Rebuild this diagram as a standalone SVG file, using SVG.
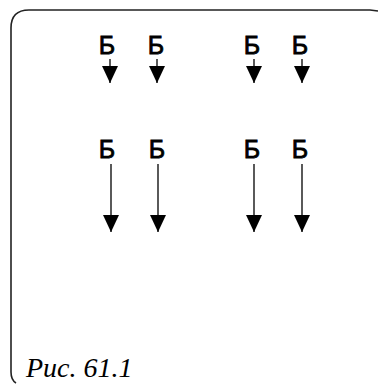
<svg xmlns="http://www.w3.org/2000/svg" width="378" height="384" viewBox="0 0 378 384">
<style>
.frame{fill:none;stroke:#222;stroke-width:1.6}
.lbl{font-family:"Liberation Sans",Arial,sans-serif;font-size:25px;fill:#000;stroke:#000;stroke-width:0.8;text-anchor:middle}
.stem{stroke:#000;stroke-width:1.3;fill:none}
.cap{font-family:"Liberation Serif","Times New Roman",serif;font-style:italic;font-size:28px;fill:#000}
</style>
<defs>
<marker id="ah" viewBox="0 0 17 16" refX="17" refY="8" markerWidth="17" markerHeight="16" markerUnits="userSpaceOnUse" orient="auto">
<path d="M0 0 L17 8 L0 16 Z" fill="#000"/>
</marker>
</defs>
<rect width="378" height="384" fill="#fff"/>
<path class="frame" d="M16 383 Q11 380 11 372 L11 28 Q11 10 29 10 L370 10 L378 11"/>
<g id="top1"><text class="lbl" x="107" y="54">Б</text></g>
<g id="top2"><text class="lbl" x="156" y="54">Б</text></g>
<g id="top3"><text class="lbl" x="252" y="54">Б</text></g>
<g id="top4"><text class="lbl" x="300" y="54">Б</text></g>
<g id="bot1"><text class="lbl" x="107" y="158">Б</text></g>
<g id="bot2"><text class="lbl" x="157" y="158">Б</text></g>
<g id="bot3"><text class="lbl" x="252" y="158">Б</text></g>
<g id="bot4"><text class="lbl" x="300" y="158">Б</text></g>
<g id="connectors">
<line class="stem" x1="110" y1="59" x2="110" y2="83" marker-end="url(#ah)"/>
<line class="stem" x1="157" y1="59" x2="157" y2="83" marker-end="url(#ah)"/>
<line class="stem" x1="254" y1="59" x2="254" y2="83" marker-end="url(#ah)"/>
<line class="stem" x1="302" y1="59" x2="302" y2="83" marker-end="url(#ah)"/>
<line class="stem" x1="111" y1="164" x2="111" y2="232" marker-end="url(#ah)"/>
<line class="stem" x1="158" y1="164" x2="158" y2="232" marker-end="url(#ah)"/>
<line class="stem" x1="254" y1="164" x2="254" y2="232" marker-end="url(#ah)"/>
<line class="stem" x1="302" y1="164" x2="302" y2="232" marker-end="url(#ah)"/>
</g>
<text class="cap" x="26" y="377">Рис. 61.1</text>
</svg>
